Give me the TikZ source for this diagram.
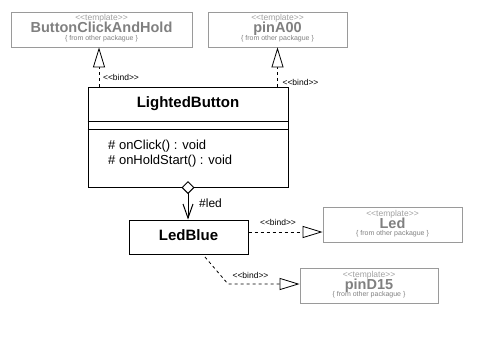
\documentclass[tikz,border=0pt]{standalone}
\usepackage{fontspec}
\setmainfont{Liberation Sans}
\usetikzlibrary{arrows.meta}
\definecolor{tmplline}{HTML}{9A9A9A}
\definecolor{tmpltext}{HTML}{808080}
\definecolor{tmplstereo}{HTML}{A0A0A0}
\tikzset{
  cls/.style={draw, line width=1pt, inner sep=0pt},
  tmpl/.style={draw=tmplline, line width=0.8pt, minimum height=35pt, inner sep=0pt},
  tmplst/.style={anchor=base, text=tmplstereo, font=\fontsize{8.5}{10}\selectfont, inner sep=0pt},
  tmplname/.style={anchor=base, text=tmpltext, font=\fontsize{14.5}{16}\selectfont\bfseries, inner sep=0pt},
  tmplfrom/.style={anchor=base, text=tmpltext, font=\fontsize{7}{8}\selectfont, inner sep=0pt},
  bind/.style={dash pattern=on 3pt off 3pt, line width=0.8pt, -{Triangle[length=20pt,width=12pt,fill=white]}},
  bindlbl/.style={font=\fontsize{8.5}{10}\selectfont, inner sep=0pt},
}
% template box: name, position, width, title
\newcommand{\tmplbox}[4]{%
  \node[tmpl, minimum width=#3] (#1) at (#2) {};
  \node[tmplst] (#1-st) at ([yshift=-9pt]#1.north) {<{}<template>{}>};
  \node[tmplname] (#1-name) at ([yshift=-21pt]#1.north) {#4};
  \node[tmplfrom] (#1-from) at ([yshift=-28.5pt]#1.north) {\{ from other packague \}};
}
\begin{document}
\begin{tikzpicture}[x=1pt, y=-1pt]
    \useasboundingbox (0,0) rectangle (489,341);
    % templates
    \tmplbox{bcah}{101.5,29.5}{181pt}{ButtonClickAndHold}
    \tmplbox{pina}{277.5,29.5}{139pt}{pinA00}
    \tmplbox{led}{392.5,225}{139pt}{Led}
    \tmplbox{pind}{369,286}{138pt}{pinD15}
    % classes
    \node[cls, minimum width=200pt, minimum height=100pt] (lighted) at (188,137) {};
    \draw[line width=1pt] ([yshift=-35pt]lighted.north west) -- ([yshift=-35pt]lighted.north east);
    \draw[line width=1pt] ([yshift=-43pt]lighted.north west) -- ([yshift=-43pt]lighted.north east);
    \node[anchor=base, inner sep=0pt, font=\fontsize{15}{17}\selectfont\bfseries] (lighted-title) at ([yshift=-21pt]lighted.north) {LightedButton};
    \node[anchor=base west, inner sep=0pt, font=\fontsize{13}{15}\selectfont] (op1) at (108,149.5) {\# onClick() : void};
    \node[anchor=base west, inner sep=0pt, font=\fontsize{13}{15}\selectfont] (op2) at (108,164.5) {\# onHoldStart() : void};
    \node[cls, minimum width=119pt, minimum height=34pt, text depth=4pt, font=\fontsize{15}{17}\selectfont\bfseries] (ledblue) at (188.5,237) {LedBlue};
    % composition
    \draw[line width=1pt, {Diamond[length=13pt,width=13pt,fill=white]}-{Straight Barb[length=14pt,width=10pt]}] ([yshift=6.5pt]lighted.south) -- (lighted.south |- ledblue.north);
    \node[anchor=west, inner sep=0pt, font=\fontsize{12}{14}\selectfont] (ledrole) at (199,203) {\#led};
    % bindings
    \draw[bind] ([xshift=-89pt]lighted.north) -- ([xshift=-89pt]lighted.north |- bcah.south);
    \draw[bind] (lighted.north -| pina.south) -- (pina.south);
    \draw[bind] ([yshift=5pt]ledblue.east) -- ([yshift=5pt]ledblue.east -| led.west);
    \coordinate (startD) at (205,257);
    \coordinate (bendD) at (228,284);
    \draw[bind] (startD) -- (bendD) -- (pind.west |- bendD);
    \node[bindlbl] (bindA) at (121,77) {<{}<bind>{}>};
    \node[bindlbl] (bindB) at (300.5,82) {<{}<bind>{}>};
    \node[bindlbl] (bindC) at (278,222) {<{}<bind>{}>};
    \node[bindlbl] (bindD) at (250.5,275) {<{}<bind>{}>};
\end{tikzpicture}
\end{document}
